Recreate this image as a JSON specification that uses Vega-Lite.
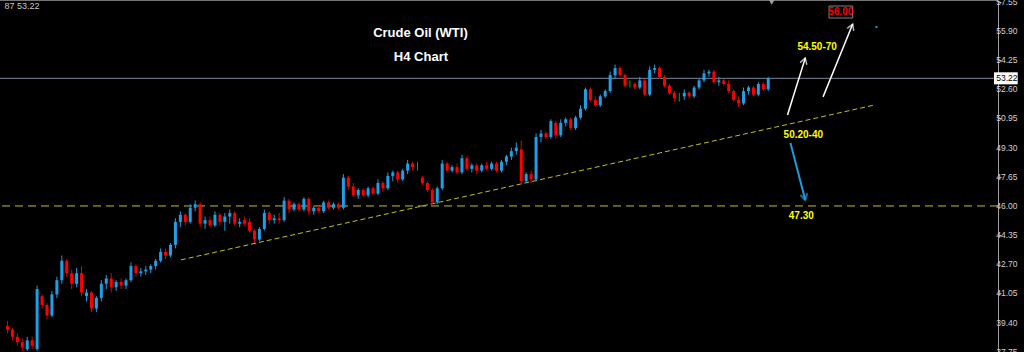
{
  "$schema": "https://vega.github.io/schema/vega-lite/v6.json",
  "width": 998,
  "height": 352,
  "autosize": "none",
  "padding": {"left": 0, "top": 0, "bottom": 0, "right": 26},
  "background": "#000000",
  "config": {
    "view": {"stroke": null},
    "axis": {"grid": false, "title": null, "labels": false, "domainColor": "#a0a0a0", "tickColor": "#a0a0a0", "tickSize": 3}
  },
  "datasets": {
    "ticks": [{"v": 37.75}, {"v": 39.4}, {"v": 41.05}, {"v": 42.7}, {"v": 44.35}, {"v": 46.0}, {"v": 47.65}, {"v": 49.3}, {"v": 50.95}, {"v": 52.6}, {"v": 54.25}, {"v": 55.9}, {"v": 57.55}],
    "candles": [
{"i":0,"o":39.2,"h":39.5,"l":38.8,"c":39.0},
{"i":1,"o":39.0,"h":39.1,"l":38.4,"c":38.6},
{"i":2,"o":38.6,"h":38.8,"l":38.1,"c":38.3},
{"i":3,"o":38.3,"h":38.5,"l":37.8,"c":38.0},
{"i":4,"o":37.9,"h":38.6,"l":37.8,"c":38.4},
{"i":5,"o":38.4,"h":38.6,"l":37.9,"c":38.1},
{"i":6,"o":37.9,"h":41.5,"l":37.8,"c":41.3},
{"i":7,"o":40.9,"h":41.0,"l":40.2,"c":40.4},
{"i":8,"o":40.4,"h":40.5,"l":39.6,"c":39.8},
{"i":9,"o":39.8,"h":41.2,"l":39.7,"c":41.0},
{"i":10,"o":41.0,"h":42.0,"l":40.8,"c":41.8},
{"i":11,"o":41.8,"h":43.2,"l":41.6,"c":42.9},
{"i":12,"o":42.9,"h":43.0,"l":42.0,"c":42.2},
{"i":13,"o":42.2,"h":42.4,"l":41.3,"c":41.6},
{"i":14,"o":41.6,"h":42.5,"l":41.4,"c":42.2},
{"i":15,"o":42.2,"h":42.6,"l":40.9,"c":41.1},
{"i":16,"o":40.9,"h":41.3,"l":40.6,"c":41.1},
{"i":17,"o":41.1,"h":41.2,"l":40.0,"c":40.2},
{"i":18,"o":40.2,"h":40.9,"l":40.0,"c":40.8},
{"i":19,"o":40.8,"h":41.8,"l":40.6,"c":41.6},
{"i":20,"o":41.6,"h":42.1,"l":41.3,"c":41.9},
{"i":21,"o":41.9,"h":42.2,"l":41.1,"c":41.4},
{"i":22,"o":41.4,"h":41.8,"l":41.2,"c":41.7},
{"i":23,"o":41.7,"h":41.9,"l":41.3,"c":41.5},
{"i":24,"o":41.5,"h":41.9,"l":41.3,"c":41.8},
{"i":25,"o":41.8,"h":42.8,"l":41.7,"c":42.6},
{"i":26,"o":42.6,"h":42.7,"l":42.0,"c":42.2},
{"i":27,"o":42.2,"h":42.5,"l":42.0,"c":42.3},
{"i":28,"o":42.3,"h":42.6,"l":42.1,"c":42.4},
{"i":29,"o":42.4,"h":42.7,"l":42.2,"c":42.6},
{"i":30,"o":42.6,"h":43.0,"l":42.4,"c":42.9},
{"i":31,"o":42.9,"h":43.6,"l":42.8,"c":43.4},
{"i":32,"o":43.4,"h":43.6,"l":43.0,"c":43.2},
{"i":33,"o":43.2,"h":43.9,"l":43.1,"c":43.8},
{"i":34,"o":43.8,"h":45.3,"l":43.6,"c":45.1},
{"i":35,"o":45.1,"h":45.7,"l":44.8,"c":45.5},
{"i":36,"o":45.5,"h":45.6,"l":44.9,"c":45.1},
{"i":37,"o":45.1,"h":46.1,"l":45.0,"c":45.9},
{"i":38,"o":45.9,"h":46.3,"l":45.7,"c":46.1},
{"i":39,"o":46.1,"h":46.2,"l":44.8,"c":45.0},
{"i":40,"o":45.0,"h":45.4,"l":44.7,"c":45.2},
{"i":41,"o":45.2,"h":45.4,"l":44.8,"c":44.9},
{"i":42,"o":44.9,"h":45.7,"l":44.8,"c":45.5},
{"i":43,"o":45.5,"h":45.6,"l":44.9,"c":45.1},
{"i":44,"o":45.1,"h":45.6,"l":44.6,"c":45.4},
{"i":45,"o":45.4,"h":45.8,"l":45.0,"c":45.6},
{"i":46,"o":45.6,"h":45.7,"l":44.9,"c":45.0},
{"i":47,"o":45.0,"h":45.3,"l":44.8,"c":45.1},
{"i":48,"o":45.2,"h":45.4,"l":44.9,"c":45.0},
{"i":49,"o":45.1,"h":45.3,"l":44.5,"c":44.6},
{"i":50,"o":44.6,"h":44.7,"l":43.9,"c":44.1},
{"i":51,"o":44.1,"h":44.8,"l":44.0,"c":44.7},
{"i":52,"o":44.7,"h":45.8,"l":44.6,"c":45.6},
{"i":53,"o":45.6,"h":45.7,"l":45.0,"c":45.2},
{"i":54,"o":45.2,"h":45.5,"l":45.0,"c":45.3},
{"i":55,"o":45.3,"h":45.6,"l":45.0,"c":45.2},
{"i":56,"o":45.2,"h":46.5,"l":45.1,"c":46.3},
{"i":57,"o":46.3,"h":46.4,"l":45.6,"c":45.8},
{"i":58,"o":45.8,"h":46.2,"l":45.7,"c":46.1},
{"i":59,"o":46.1,"h":46.2,"l":45.7,"c":45.8},
{"i":60,"o":45.8,"h":46.5,"l":45.7,"c":46.4},
{"i":61,"o":46.4,"h":46.5,"l":45.5,"c":45.7},
{"i":62,"o":45.7,"h":46.0,"l":45.5,"c":45.9},
{"i":63,"o":45.9,"h":46.0,"l":45.6,"c":45.7},
{"i":64,"o":45.7,"h":46.3,"l":45.6,"c":46.2},
{"i":65,"o":46.2,"h":46.3,"l":45.8,"c":45.9},
{"i":66,"o":45.9,"h":46.2,"l":45.8,"c":46.1},
{"i":67,"o":46.1,"h":46.2,"l":45.8,"c":45.9},
{"i":68,"o":45.9,"h":47.8,"l":45.8,"c":47.6},
{"i":69,"o":47.6,"h":47.7,"l":46.9,"c":47.1},
{"i":70,"o":47.1,"h":47.3,"l":46.5,"c":46.6},
{"i":71,"o":46.6,"h":47.0,"l":46.4,"c":46.9},
{"i":72,"o":46.9,"h":47.0,"l":46.5,"c":46.6},
{"i":73,"o":46.6,"h":47.1,"l":46.5,"c":47.0},
{"i":74,"o":47.0,"h":47.1,"l":46.6,"c":46.7},
{"i":75,"o":46.7,"h":47.5,"l":46.6,"c":47.3},
{"i":76,"o":47.3,"h":47.4,"l":46.8,"c":47.0},
{"i":77,"o":47.0,"h":47.9,"l":46.9,"c":47.7},
{"i":78,"o":47.7,"h":48.0,"l":47.4,"c":47.9},
{"i":79,"o":47.9,"h":48.0,"l":47.3,"c":47.5},
{"i":80,"o":47.5,"h":48.1,"l":47.4,"c":48.0},
{"i":81,"o":48.0,"h":48.6,"l":47.8,"c":48.4},
{"i":82,"o":48.4,"h":48.5,"l":48.0,"c":48.2},
{"i":83,"o":48.3,"h":48.5,"l":48.0,"c":48.3},
{"i":84,"o":47.6,"h":47.7,"l":47.2,"c":47.3},
{"i":85,"o":47.3,"h":47.4,"l":46.8,"c":46.9},
{"i":86,"o":46.9,"h":47.0,"l":46.1,"c":46.2},
{"i":87,"o":46.2,"h":47.1,"l":46.1,"c":47.0},
{"i":88,"o":47.0,"h":48.6,"l":46.9,"c":48.4},
{"i":89,"o":48.4,"h":48.5,"l":47.9,"c":48.0},
{"i":90,"o":48.0,"h":48.3,"l":47.9,"c":48.2},
{"i":91,"o":48.2,"h":48.4,"l":47.8,"c":47.9},
{"i":92,"o":47.9,"h":48.9,"l":47.8,"c":48.7},
{"i":93,"o":48.7,"h":48.8,"l":48.0,"c":48.1},
{"i":94,"o":48.1,"h":48.4,"l":47.9,"c":48.3},
{"i":95,"o":48.3,"h":48.4,"l":47.8,"c":48.0},
{"i":96,"o":48.0,"h":48.4,"l":47.9,"c":48.3},
{"i":97,"o":48.3,"h":48.5,"l":48.0,"c":48.1},
{"i":98,"o":48.1,"h":48.5,"l":48.0,"c":48.4},
{"i":99,"o":48.4,"h":48.5,"l":47.9,"c":48.0},
{"i":100,"o":48.0,"h":48.6,"l":47.9,"c":48.5},
{"i":101,"o":48.5,"h":48.9,"l":48.3,"c":48.8},
{"i":102,"o":48.8,"h":49.3,"l":48.6,"c":49.1},
{"i":103,"o":49.1,"h":49.6,"l":48.9,"c":49.3},
{"i":104,"o":49.2,"h":49.7,"l":47.2,"c":47.4},
{"i":105,"o":47.4,"h":47.9,"l":47.3,"c":47.8},
{"i":106,"o":47.8,"h":48.0,"l":47.3,"c":47.5},
{"i":107,"o":47.5,"h":50.1,"l":47.4,"c":49.9},
{"i":108,"o":49.9,"h":50.3,"l":49.6,"c":50.1},
{"i":109,"o":50.1,"h":50.2,"l":49.8,"c":49.9},
{"i":110,"o":49.9,"h":50.9,"l":49.8,"c":50.8},
{"i":111,"o":50.7,"h":50.8,"l":49.8,"c":50.0},
{"i":112,"o":50.0,"h":50.9,"l":49.9,"c":50.7},
{"i":113,"o":50.7,"h":51.0,"l":50.5,"c":50.9},
{"i":114,"o":50.9,"h":51.0,"l":50.3,"c":50.4},
{"i":115,"o":50.4,"h":51.1,"l":50.3,"c":51.0},
{"i":116,"o":51.0,"h":51.7,"l":50.9,"c":51.5},
{"i":117,"o":51.5,"h":52.7,"l":51.4,"c":52.6},
{"i":118,"o":52.6,"h":52.7,"l":51.9,"c":52.0},
{"i":119,"o":52.0,"h":52.2,"l":51.6,"c":51.7},
{"i":120,"o":51.7,"h":52.3,"l":51.6,"c":52.2},
{"i":121,"o":52.2,"h":52.6,"l":52.1,"c":52.5},
{"i":122,"o":52.5,"h":53.6,"l":52.4,"c":53.4},
{"i":123,"o":53.4,"h":54.0,"l":53.2,"c":53.8},
{"i":124,"o":53.8,"h":53.9,"l":53.3,"c":53.4},
{"i":125,"o":53.4,"h":53.5,"l":52.7,"c":52.8},
{"i":126,"o":52.9,"h":53.1,"l":52.7,"c":52.9},
{"i":127,"o":52.9,"h":53.0,"l":52.6,"c":52.7},
{"i":128,"o":52.7,"h":53.3,"l":52.6,"c":53.1},
{"i":129,"o":53.1,"h":53.2,"l":52.2,"c":52.3},
{"i":130,"o":52.3,"h":53.9,"l":52.2,"c":53.7},
{"i":131,"o":53.7,"h":54.0,"l":53.5,"c":53.8},
{"i":132,"o":53.8,"h":53.9,"l":53.2,"c":53.3},
{"i":133,"o":53.3,"h":53.4,"l":52.7,"c":52.8},
{"i":134,"o":52.8,"h":52.9,"l":52.3,"c":52.4},
{"i":135,"o":52.4,"h":52.5,"l":51.9,"c":52.1},
{"i":136,"o":52.2,"h":52.4,"l":51.9,"c":52.2},
{"i":137,"o":52.2,"h":52.6,"l":52.0,"c":52.4},
{"i":138,"o":52.4,"h":52.5,"l":52.1,"c":52.2},
{"i":139,"o":52.2,"h":52.8,"l":52.1,"c":52.7},
{"i":140,"o":52.7,"h":53.2,"l":52.6,"c":53.1},
{"i":141,"o":53.1,"h":53.7,"l":53.0,"c":53.5},
{"i":142,"o":53.5,"h":53.7,"l":53.3,"c":53.6},
{"i":143,"o":53.6,"h":53.7,"l":52.9,"c":53.0},
{"i":144,"o":53.0,"h":53.3,"l":52.8,"c":53.1},
{"i":145,"o":53.1,"h":53.2,"l":52.8,"c":52.9},
{"i":146,"o":52.9,"h":53.1,"l":52.4,"c":52.5},
{"i":147,"o":52.5,"h":52.6,"l":51.9,"c":52.0},
{"i":148,"o":52.0,"h":52.2,"l":51.6,"c":51.8},
{"i":149,"o":51.8,"h":52.7,"l":51.7,"c":52.5},
{"i":150,"o":52.5,"h":52.8,"l":52.3,"c":52.7},
{"i":151,"o":52.7,"h":52.8,"l":52.2,"c":52.3},
{"i":152,"o":52.3,"h":53.0,"l":52.2,"c":52.9},
{"i":153,"o":52.9,"h":53.0,"l":52.5,"c":52.6},
{"i":154,"o":52.6,"h":53.3,"l":52.5,"c":53.22}
    ]
  },
  "layer": [
    {
      "data": {"values": [{"p": 57.65}]},
      "mark": {"type": "rule", "color": "#9a9a9a", "strokeWidth": 1.5},
      "encoding": {"y": {"field": "p", "type": "quantitative", "scale": {"domain": [37.74, 57.65], "nice": false, "zero": false},
        "axis": {"orient": "right", "values": [37.75, 39.4, 41.05, 42.7, 44.35, 46.0, 47.65, 49.3, 50.95, 52.6, 54.25, 55.9, 57.55], "labels": false, "title": null}}}
    },
    {
      "data": {"values": [{"p": 46.0}]},
      "mark": {"type": "rule", "color": "#c0c020", "strokeWidth": 1, "strokeDash": [8, 5]},
      "encoding": {"y": {"field": "p", "type": "quantitative", "scale": {"domain": [37.74, 57.65], "nice": false, "zero": false}}}
    },
    {
      "data": {"values": [{"p": 53.22}]},
      "mark": {"type": "rule", "color": "#778899", "strokeWidth": 1},
      "encoding": {"y": {"field": "p", "type": "quantitative", "scale": {"domain": [37.74, 57.65], "nice": false, "zero": false}}}
    },
    {
      "data": {"values": [{"x": 35.1, "p": 42.95, "x2": 175.5, "p2": 51.71}]},
      "mark": {"type": "rule", "color": "#c0c020", "strokeWidth": 1, "strokeDash": [5, 3]},
      "encoding": {
        "x": {"field": "x", "type": "quantitative", "scale": {"domain": [-0.5, 199.5], "nice": false, "zero": false}, "axis": null},
        "x2": {"field": "x2"},
        "y": {"field": "p", "type": "quantitative", "scale": {"domain": [37.74, 57.65], "nice": false, "zero": false}},
        "y2": {"field": "p2"}
      }
    },
    {
      "data": {"name": "candles"},
      "mark": {"type": "rule", "strokeWidth": 1},
      "encoding": {
        "x": {"field": "i", "type": "quantitative", "scale": {"domain": [-0.5, 199.5], "nice": false, "zero": false}, "axis": null},
        "y": {"field": "l", "type": "quantitative", "scale": {"domain": [37.74, 57.65], "nice": false, "zero": false}},
        "y2": {"field": "h"},
        "color": {"condition": [{"test": "datum.c < datum.o", "value": "#e00000"}, {"test": "datum.c == datum.o", "value": "#00b000"}], "value": "#1e9be0"}
      }
    },
    {
      "data": {"name": "candles"},
      "mark": {"type": "bar", "width": 3},
      "encoding": {
        "x": {"field": "i", "type": "quantitative", "scale": {"domain": [-0.5, 199.5], "nice": false, "zero": false}, "axis": null},
        "y": {"field": "o", "type": "quantitative", "scale": {"domain": [37.74, 57.65], "nice": false, "zero": false}},
        "y2": {"field": "c"},
        "color": {"condition": [{"test": "datum.c < datum.o", "value": "#ff0000"}, {"test": "datum.c == datum.o", "value": "#00c000"}], "value": "#1ea0e8"}
      }
    },
    {
      "data": {"name": "ticks"},
      "transform": [{"filter": "datum.v != 52.6 || true"}],
      "mark": {"type": "text", "align": "left", "baseline": "middle", "font": "Liberation Sans", "fontSize": 8.5, "color": "#d0d0d0"},
      "encoding": {
        "x": {"datum": 200.15, "type": "quantitative", "scale": {"domain": [-0.5, 199.5], "nice": false, "zero": false}, "axis": null},
        "y": {"field": "v", "type": "quantitative", "scale": {"domain": [37.74, 57.65], "nice": false, "zero": false}},
        "text": {"field": "v", "type": "quantitative", "format": ".2f"}
      }
    },
    {
      "data": {"values": [{"x": 199.7, "x2": 204.5, "p": 52.88, "p2": 53.56}]},
      "mark": {"type": "rect", "fill": "#ffffff"},
      "encoding": {
        "x": {"field": "x", "type": "quantitative", "scale": {"domain": [-0.5, 199.5], "nice": false, "zero": false}, "axis": null},
        "x2": {"field": "x2"},
        "y": {"field": "p", "type": "quantitative", "scale": {"domain": [37.74, 57.65], "nice": false, "zero": false}},
        "y2": {"field": "p2"}
      }
    },
    {
      "data": {"values": [{"x": 200.15, "p": 53.22, "t": "53.22"}]},
      "mark": {"type": "text", "align": "left", "baseline": "middle", "font": "Liberation Sans", "fontSize": 8.5, "color": "#000000"},
      "encoding": {
        "x": {"field": "x", "type": "quantitative", "scale": {"domain": [-0.5, 199.5], "nice": false, "zero": false}, "axis": null},
        "y": {"field": "p", "type": "quantitative", "scale": {"domain": [37.74, 57.65], "nice": false, "zero": false}},
        "text": {"field": "t"}
      }
    },
    {
      "data": {"values": [{"x": -0.6, "p": 57.3, "t": "87 53.22"}]},
      "mark": {"type": "text", "align": "left", "baseline": "middle", "font": "Liberation Sans", "fontSize": 9, "color": "#c8c8c8"},
      "encoding": {
        "x": {"field": "x", "type": "quantitative", "scale": {"domain": [-0.5, 199.5], "nice": false, "zero": false}, "axis": null},
        "y": {"field": "p", "type": "quantitative", "scale": {"domain": [37.74, 57.65], "nice": false, "zero": false}},
        "text": {"field": "t"}
      }
    },
    {
      "data": {"values": [{"x": 83.6, "p": 55.79, "t": "Crude Oil (WTI)"}, {"x": 83.7, "p": 54.43, "t": "H4 Chart"}]},
      "mark": {"type": "text", "align": "center", "baseline": "middle", "font": "Liberation Sans", "fontSize": 13, "fontWeight": "bold", "color": "#ffffff"},
      "encoding": {
        "x": {"field": "x", "type": "quantitative", "scale": {"domain": [-0.5, 199.5], "nice": false, "zero": false}, "axis": null},
        "y": {"field": "p", "type": "quantitative", "scale": {"domain": [37.74, 57.65], "nice": false, "zero": false}},
        "text": {"field": "t"}
      }
    },
    {
      "data": {"values": [{"x": 163.9, "p": 54.99, "t": "54.50-70"}, {"x": 161.1, "p": 50.02, "t": "50.20-40"}, {"x": 160.7, "p": 45.43, "t": "47.30"}]},
      "mark": {"type": "text", "align": "center", "baseline": "middle", "font": "Liberation Sans", "fontSize": 10, "fontWeight": "bold", "color": "#ffff00"},
      "encoding": {
        "x": {"field": "x", "type": "quantitative", "scale": {"domain": [-0.5, 199.5], "nice": false, "zero": false}, "axis": null},
        "y": {"field": "p", "type": "quantitative", "scale": {"domain": [37.74, 57.65], "nice": false, "zero": false}},
        "text": {"field": "t"}
      }
    },
    {
      "data": {"values": [{"x": 166.3, "x2": 171.1, "p": 56.63, "p2": 57.31}]},
      "mark": {"type": "rect", "fill": "#000000", "stroke": "#808080", "strokeWidth": 1},
      "encoding": {
        "x": {"field": "x", "type": "quantitative", "scale": {"domain": [-0.5, 199.5], "nice": false, "zero": false}, "axis": null},
        "x2": {"field": "x2"},
        "y": {"field": "p", "type": "quantitative", "scale": {"domain": [37.74, 57.65], "nice": false, "zero": false}},
        "y2": {"field": "p2"}
      }
    },
    {
      "data": {"values": [{"x": 168.7, "p": 56.97, "t": "56.00"}]},
      "mark": {"type": "text", "align": "center", "baseline": "middle", "font": "Liberation Sans", "fontSize": 10, "fontWeight": "bold", "color": "#ff0000"},
      "encoding": {
        "x": {"field": "x", "type": "quantitative", "scale": {"domain": [-0.5, 199.5], "nice": false, "zero": false}, "axis": null},
        "y": {"field": "p", "type": "quantitative", "scale": {"domain": [37.74, 57.65], "nice": false, "zero": false}},
        "text": {"field": "t"}
      }
    },
    {
      "data": {"values": [{"x": 157.9, "p": 51.15, "x2": 161.5, "p2": 54.37}, {"x": 165.1, "p": 52.17, "x2": 171.1, "p2": 56.29}]},
      "mark": {"type": "rule", "color": "#ffffff", "strokeWidth": 1.5},
      "encoding": {
        "x": {"field": "x", "type": "quantitative", "scale": {"domain": [-0.5, 199.5], "nice": false, "zero": false}, "axis": null},
        "x2": {"field": "x2"},
        "y": {"field": "p", "type": "quantitative", "scale": {"domain": [37.74, 57.65], "nice": false, "zero": false}},
        "y2": {"field": "p2"}
      }
    },
    {
      "data": {"values": [{"x": 158.5, "p": 49.56, "x2": 161.5, "p2": 46.34}]},
      "mark": {"type": "rule", "color": "#1e9be0", "strokeWidth": 2},
      "encoding": {
        "x": {"field": "x", "type": "quantitative", "scale": {"domain": [-0.5, 199.5], "nice": false, "zero": false}, "axis": null},
        "x2": {"field": "x2"},
        "y": {"field": "p", "type": "quantitative", "scale": {"domain": [37.74, 57.65], "nice": false, "zero": false}},
        "y2": {"field": "p2"}
      }
    },
    {
      "data": {"values": [{"x": 161.5, "p": 54.37}]},
      "mark": {"type": "point", "shape": "M-0.7,1.2L0,0L0.7,1.2", "filled": false, "stroke": "#ffffff", "strokeWidth": 1.5, "size": 100, "angle": 17.5},
      "encoding": {
        "x": {"field": "x", "type": "quantitative", "scale": {"domain": [-0.5, 199.5], "nice": false, "zero": false}, "axis": null},
        "y": {"field": "p", "type": "quantitative", "scale": {"domain": [37.74, 57.65], "nice": false, "zero": false}}
      }
    },
    {
      "data": {"values": [{"x": 171.1, "p": 56.29}]},
      "mark": {"type": "point", "shape": "M-0.7,1.2L0,0L0.7,1.2", "filled": false, "stroke": "#ffffff", "strokeWidth": 1.5, "size": 100, "angle": 21.8},
      "encoding": {
        "x": {"field": "x", "type": "quantitative", "scale": {"domain": [-0.5, 199.5], "nice": false, "zero": false}, "axis": null},
        "y": {"field": "p", "type": "quantitative", "scale": {"domain": [37.74, 57.65], "nice": false, "zero": false}}
      }
    },
    {
      "data": {"values": [{"x": 161.5, "p": 46.34}]},
      "mark": {"type": "point", "shape": "M-0.7,1.2L0,0L0.7,1.2", "filled": false, "stroke": "#1e9be0", "strokeWidth": 2, "size": 100, "angle": 165.8},
      "encoding": {
        "x": {"field": "x", "type": "quantitative", "scale": {"domain": [-0.5, 199.5], "nice": false, "zero": false}, "axis": null},
        "y": {"field": "p", "type": "quantitative", "scale": {"domain": [37.74, 57.65], "nice": false, "zero": false}}
      }
    },
    {
      "data": {"values": [{"x": 175.9, "p": 56.12}]},
      "mark": {"type": "square", "color": "#1e9be0", "size": 4, "opacity": 1},
      "encoding": {
        "x": {"field": "x", "type": "quantitative", "scale": {"domain": [-0.5, 199.5], "nice": false, "zero": false}, "axis": null},
        "y": {"field": "p", "type": "quantitative", "scale": {"domain": [37.74, 57.65], "nice": false, "zero": false}}
      }
    },
    {
      "data": {"values": [{"x": 154.7, "p": 57.52}]},
      "mark": {"type": "point", "shape": "triangle-down", "filled": true, "color": "#a0a0a0", "size": 30, "opacity": 1},
      "encoding": {
        "x": {"field": "x", "type": "quantitative", "scale": {"domain": [-0.5, 199.5], "nice": false, "zero": false}, "axis": null},
        "y": {"field": "p", "type": "quantitative", "scale": {"domain": [37.74, 57.65], "nice": false, "zero": false}}
      }
    }
  ]
}
